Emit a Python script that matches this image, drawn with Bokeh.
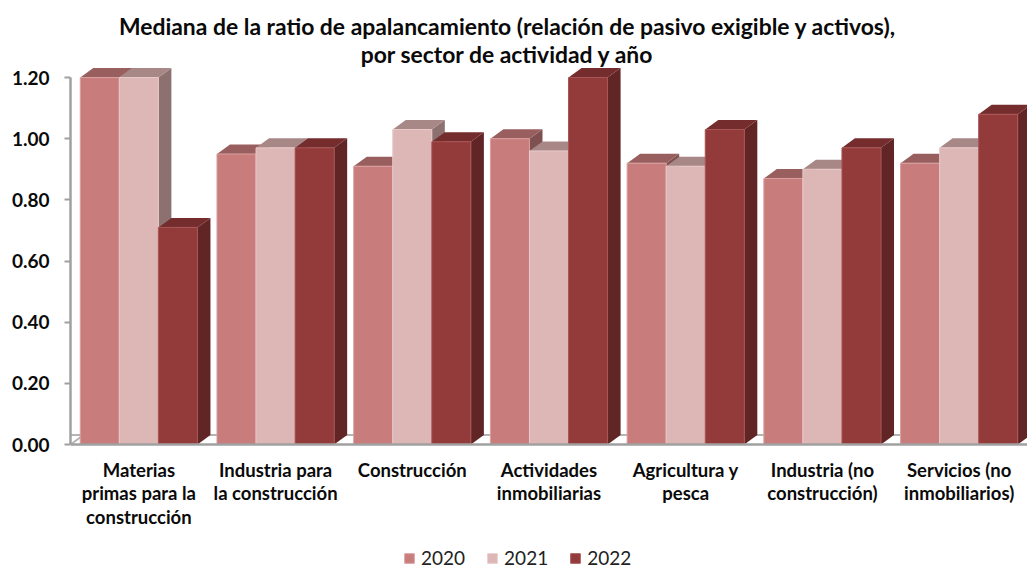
from bokeh.plotting import figure
from bokeh.models import Range1d, FixedTicker, Label, Legend, LegendItem
from bokeh.embed import file_html
from bokeh.resources import INLINE

categories = ["Materias\nprimas para la\nconstrucción", "Industria para\nla construcción", "Construcción",
              "Actividades\ninmobiliarias", "Agricultura y\npesca", "Industria (no\nconstrucción)",
              "Servicios (no\ninmobiliarios)"]
years = ["2020", "2021", "2022"]
v2020 = [1.20, 0.95, 0.91, 1.00, 0.92, 0.87, 0.92]
v2021 = [1.20, 0.97, 1.03, 0.96, 0.91, 0.90, 0.97]
v2022 = [0.71, 0.97, 0.99, 1.20, 1.03, 0.97, 1.08]
y_ticks = [0, 0.2, 0.4, 0.6, 0.8, 1.0, 1.2]
title_lines = ["Mediana de la ratio de apalancamiento (relación de pasivo exigible y activos),",
               "por sector de actividad y año"]

front = ["#C97C7C", "#DDB6B6", "#933A3A"]
top = ["#985F5E", "#A88887", "#742C2C"]
side = ["#7F5050", "#8D7070", "#602524"]
edge = ["#D9A0A0", "#E8CACA", "#A85555"]
GRAY = "#A0A0A0"

W, H = 1027, 569
p = figure(width=W, height=H, output_backend="svg", toolbar_location=None,
           x_range=Range1d(-0.5, 6.5), y_range=Range1d(-125 / 305.8, 444 / 305.8),
           min_border_left=70, min_border_right=0, min_border_top=0, min_border_bottom=0)
p.outline_line_color = None
p.grid.visible = False
p.background_fill_color = "white"

bw = 1 / 3.5
dx = 13 / 136.7
dy = 9.5 / 305.8

# floor and left wall
p.segment([-0.5, -0.5], [0, dy], [-0.5 + dx, 6.5], [dy, dy], line_color="#B4B4B4", line_width=2)

rends = []
for s, vals in enumerate([v2020, v2021, v2022]):
    for i, v in enumerate(vals):
        l = i - 1.5 * bw + s * bw
        r = l + bw
        p.patch([r, r + dx, r + dx, r], [0, dy, v + dy, v], fill_color=side[s], line_color=None)
        p.patch([l, l + dx, r + dx, r], [v, v + dy, v + dy, v], fill_color=top[s], line_color=None)
    ls = [i - 1.5 * bw + s * bw for i in range(7)]
    g = p.quad(left=ls, right=[x + bw for x in ls], bottom=[0] * 7, top=vals,
               fill_color=front[s], line_color=edge[s], line_width=1)
    rends.append(g)

ax = p.xaxis[0]
ax.fixed_location = 0
ax.ticker = FixedTicker(ticks=list(range(7)))
ax.major_label_overrides = {i: c for i, c in enumerate(categories)}
ax.major_tick_line_color = None
ax.minor_tick_line_color = None
ax.axis_line_color = GRAY
ax.axis_line_width = 2.5
ax.major_label_text_font = "Lato"
ax.major_label_text_font_style = "bold"
ax.major_label_text_font_size = "18.5px"
ax.major_label_text_color = "#0A0A0A"
ax.major_label_text_line_height = 1.09
ax.major_label_standoff = 8

ay = p.yaxis[0]
ay.ticker = FixedTicker(ticks=y_ticks)
ay.major_label_overrides = {t: f"{t:.2f}" for t in y_ticks}
ay.bounds = (0, 1.2)
ay.minor_tick_line_color = None
ay.axis_line_color = GRAY
ay.axis_line_width = 2.5
ay.major_tick_line_color = GRAY
ay.major_tick_line_width = 2
ay.major_tick_in = 0
ay.major_tick_out = 6
ay.major_label_standoff = 15
ay.major_label_text_font = "Lato"
ay.major_label_text_font_style = "bold"
ay.major_label_text_font_size = "19px"
ay.major_label_text_color = "#0A0A0A"

for line, yy in zip(title_lines, [25.5, 53.5]):
    p.add_layout(Label(x=-0.5 + (507 - 70) / 136.7, y=(444 - yy) / 305.8, text=line,
                       text_font="Lato", text_font_style="bold", text_font_size="22.9px",
                       text_align="center", text_baseline="middle", text_color="#0A0A0A"))

legend = Legend(items=[LegendItem(label=y, renderers=[g]) for y, g in zip(years, rends)],
                orientation="horizontal", location=(333, 0), padding=0, margin=0, spacing=21,
                glyph_width=12, glyph_height=12, label_standoff=6, border_line_color=None,
                background_fill_alpha=0, label_text_font="Lato", label_text_font_size="19px",
                label_text_color="#222222")
p.add_layout(legend, "center")

open("out.html", "w").write(file_html(p, INLINE))
